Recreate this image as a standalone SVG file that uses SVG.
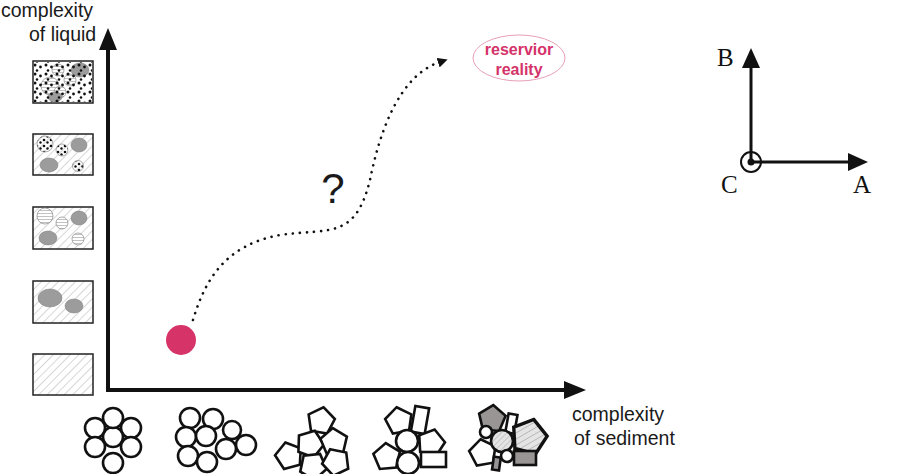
<svg xmlns="http://www.w3.org/2000/svg" width="900" height="474" viewBox="0 0 900 474">
<style>
.t{font-family:"Liberation Sans",Arial,sans-serif;fill:#1a1a1a}
.s{font-family:"Liberation Serif","Times New Roman",serif;font-size:25px;fill:#111}
.box{stroke:#222;stroke-width:1.5}
.g{fill:#9c9c9c;stroke:#777;stroke-width:0.5}
.st{fill:url(#hz);stroke:#888;stroke-width:0.7}
.sh{fill:#fff;stroke:#111;stroke-width:2.6}
.ax{stroke:#111;stroke-width:4;fill:none}
.rx{stroke:#111;stroke-width:3;fill:none}
</style>
<defs>
<pattern id="dg" width="6" height="6" patternUnits="userSpaceOnUse" patternTransform="rotate(45)">
<rect width="6" height="6" fill="#fff"/><line x1="0" y1="0" x2="0" y2="6" stroke="#999" stroke-width="0.8"/>
</pattern>
<pattern id="hz" width="4" height="3" patternUnits="userSpaceOnUse">
<rect width="4" height="3" fill="#fff"/><line x1="0" y1="0.5" x2="4" y2="0.5" stroke="#999" stroke-width="0.6"/>
</pattern>
<pattern id="dt" width="7" height="6" patternUnits="userSpaceOnUse">
<circle cx="2" cy="2" r="1.3" fill="#111"/><circle cx="5.5" cy="4.5" r="1.2" fill="#111"/>
</pattern>
<pattern id="dt2" width="11" height="9" patternUnits="userSpaceOnUse">
<circle cx="2" cy="2" r="1.5" fill="#111"/><circle cx="7.5" cy="4" r="1.4" fill="#111"/><circle cx="4" cy="7.5" r="1.3" fill="#111"/>
</pattern>
<pattern id="dh" width="4" height="4" patternUnits="userSpaceOnUse" patternTransform="rotate(45)">
<rect width="4" height="4" fill="#e4e4e4"/><line x1="0" y1="0" x2="0" y2="4" stroke="#999" stroke-width="0.8"/>
</pattern>
<polygon id="pent" points="0,-14 13.3,-4.3 8.2,11.3 -8.2,11.3 -13.3,-4.3"/>
<marker id="ah" markerWidth="10" markerHeight="10" refX="2" refY="5" orient="auto" markerUnits="userSpaceOnUse"><path d="M0,0 L10,5 L0,10Z" fill="#111"/></marker>
</defs>

<g id="liquid5"><rect class="box" x="33" y="354" width="60" height="41" fill="url(#dg)"/></g>
<g id="liquid4"><rect class="box" x="33" y="281" width="60" height="42" fill="url(#dg)"/>
<ellipse class="g" cx="50" cy="298" rx="12" ry="9"/><ellipse class="g" cx="74" cy="306" rx="9" ry="7"/></g>
<g id="liquid3"><rect class="box" x="33" y="207" width="60" height="42" fill="url(#dg)"/>
<circle class="st" cx="45" cy="216" r="8"/><circle class="st" cx="62" cy="223" r="6"/><ellipse class="g" cx="79" cy="218" rx="8" ry="7"/><ellipse class="g" cx="48" cy="238" rx="9" ry="7"/><circle class="st" cx="78" cy="239" r="6"/></g>
<g id="liquid2"><rect class="box" x="33" y="134" width="60" height="41" fill="url(#dg)"/>
<circle cx="45" cy="144" r="8" fill="url(#dt)" stroke="#888" stroke-width="0.7"/><circle cx="62" cy="150" r="6" fill="url(#dt)" stroke="#888" stroke-width="0.7"/><ellipse class="g" cx="79" cy="145" rx="8" ry="7"/><ellipse class="g" cx="49" cy="165" rx="9" ry="7"/><circle cx="78" cy="166" r="5.5" fill="url(#dt)" stroke="#888" stroke-width="0.7"/></g>
<g id="liquid1"><rect class="box" x="33" y="61" width="60" height="42" fill="#fff"/>
<circle class="st" cx="58" cy="70" r="6"/><circle class="st" cx="50" cy="86" r="9"/><circle class="st" cx="70" cy="80" r="6"/><circle class="st" cx="60" cy="92" r="6"/>
<ellipse class="g" cx="80" cy="70" rx="9" ry="7"/><ellipse class="g" cx="55" cy="97" rx="7" ry="5"/>
<rect x="34" y="62" width="58" height="40" fill="url(#dt2)"/></g>

<g id="axes">
<line class="ax" x1="108" y1="392" x2="108" y2="48"/><path d="M99,50 L108,28 L117,50Z" fill="#111"/>
<line class="ax" x1="106" y1="390" x2="566" y2="390"/><path d="M564,381 L586,390 L564,399Z" fill="#111"/>
</g>
<g id="connectors">
<path d="M193,320 C205,280 225,245 280,235 C330,228 355,240 370,180 C380,130 400,75 440,62" fill="none" stroke="#111" stroke-width="2.6" stroke-dasharray="0.1 7" stroke-linecap="round" marker-end="url(#ah)"/>
</g>
<g id="start"><circle cx="181" cy="340" r="15" fill="#d63468"/></g>
<g id="reality"><ellipse cx="519" cy="58" rx="46" ry="23" fill="#fff" stroke="#e8a0b8" stroke-width="1"/>
<text x="519" y="55" text-anchor="middle" font-family="Liberation Sans,Arial,sans-serif" font-weight="bold" font-size="16" fill="#d4336a">reservior</text>
<text x="519" y="75" text-anchor="middle" font-family="Liberation Sans,Arial,sans-serif" font-weight="bold" font-size="16" fill="#d4336a">reality</text></g>
<text class="t" x="333" y="203" text-anchor="middle" font-size="42">?</text>
<text class="t" x="1" y="17" font-size="19.5">complexity</text>
<text class="t" x="29" y="41" font-size="19.5">of liquid</text>
<text class="t" x="572" y="421" font-size="19.5">complexity</text>
<text class="t" x="574" y="445" font-size="19.5">of sediment</text>

<g id="frame">
<line class="rx" x1="751" y1="162" x2="751" y2="66"/><path d="M742,68 L751,48 L760,68Z" fill="#111"/>
<line class="rx" x1="751" y1="162" x2="850" y2="162"/><path d="M848,153 L868,162 L848,171Z" fill="#111"/>
<circle cx="751" cy="162" r="10" fill="none" stroke="#111" stroke-width="2"/><circle cx="751" cy="162" r="3.5" fill="#111"/>
<text class="s" x="717" y="66">B</text><text class="s" x="853" y="193">A</text><text class="s" x="721" y="193">C</text>
</g>

<g id="sed1">
<circle class="sh" cx="113" cy="437" r="10"/><circle class="sh" cx="113" cy="418" r="10"/><circle class="sh" cx="95" cy="428" r="10"/><circle class="sh" cx="131" cy="428" r="10"/><circle class="sh" cx="95" cy="447" r="10"/><circle class="sh" cx="131" cy="447" r="10"/><circle class="sh" cx="113" cy="463" r="10"/>
</g>
<g id="sed2">
<circle class="sh" cx="190" cy="418" r="10"/><circle class="sh" cx="213" cy="419" r="10"/><circle class="sh" cx="186" cy="437" r="10"/><circle class="sh" cx="206" cy="436" r="10"/><circle class="sh" cx="232" cy="430" r="9"/><circle class="sh" cx="226" cy="449" r="10"/><circle class="sh" cx="246" cy="445" r="10"/><circle class="sh" cx="188" cy="456" r="10"/><circle class="sh" cx="207" cy="462" r="10"/>
</g>
<g id="sed3" fill="#fff" stroke="#111" stroke-width="2.6">
<use href="#pent" transform="translate(321,421) rotate(10)"/>
<use href="#pent" transform="translate(289,456) rotate(-15)"/>
<use href="#pent" transform="translate(310,444) rotate(20)"/>
<use href="#pent" transform="translate(334,442) rotate(-5)"/>
<use href="#pent" transform="translate(313,466) rotate(30)"/>
<use href="#pent" transform="translate(336,462) rotate(-25)"/>
</g>
<g id="sed4" fill="#fff" stroke="#111" stroke-width="2.6">
<use href="#pent" transform="translate(399,421) rotate(-10)"/>
<rect x="413" y="407" width="14" height="26" transform="rotate(10 420 420)"/>
<use href="#pent" transform="translate(431,443) rotate(15)"/>
<use href="#pent" transform="translate(387,457) rotate(-5)"/>
<circle cx="407" cy="441" r="11"/><circle cx="408" cy="463" r="11"/>
<rect x="421" y="452" width="25" height="15"/>
</g>
<g id="sed5" stroke="#111" stroke-width="2.6">
<use href="#pent" fill="#9a9595" transform="translate(492,419) rotate(5)"/>
<rect x="507" y="414" width="9" height="19" fill="#fff" transform="rotate(10 511 423)"/>
<use href="#pent" fill="url(#dh)" transform="translate(529,437) scale(1.3) rotate(15)"/>
<use href="#pent" fill="#fff" transform="translate(483,453) rotate(-10)"/>
<circle cx="486" cy="432" r="6" fill="#fff"/>
<circle cx="502" cy="441" r="11" fill="url(#dh)"/>
<circle cx="507" cy="456" r="6" fill="#fff"/>
<rect x="514" y="451" width="22" height="14" fill="#9a9595"/>
<rect x="493" y="457" width="7" height="13" fill="#9a9595" transform="rotate(8 496 463)"/>
</g>
</svg>
